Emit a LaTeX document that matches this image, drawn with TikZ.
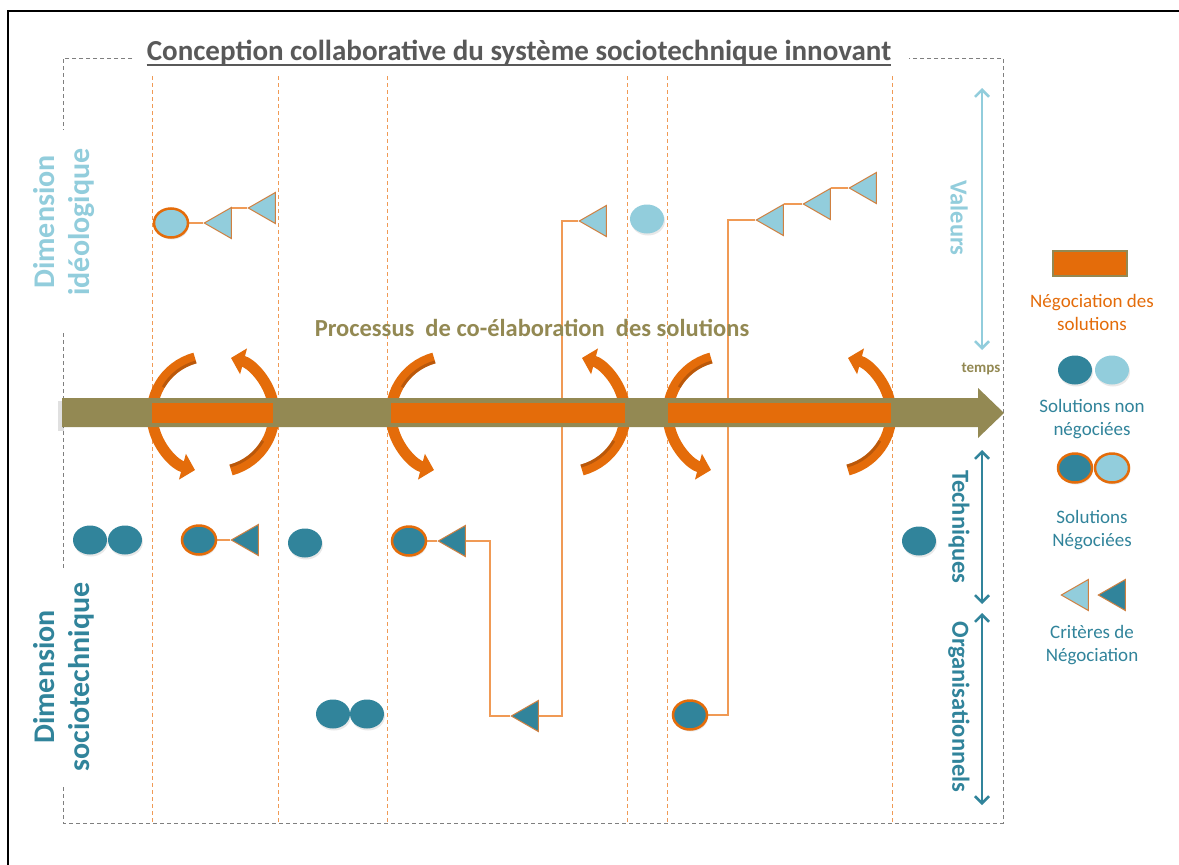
\documentclass[tikz,border=0pt]{standalone}
\usepackage{fontspec}
\setmainfont{Carlito}
\usetikzlibrary{shapes.geometric,arrows.meta,backgrounds,shadows}
\definecolor{cOrange}{HTML}{E46C0A}
\definecolor{cLOrange}{HTML}{F09A55}
\definecolor{cOlive}{HTML}{938953}
\definecolor{cLBlue}{HTML}{92CDDC}
\definecolor{cTeal}{HTML}{31849B}
\definecolor{cGray}{HTML}{7F7F7F}
\definecolor{cTitle}{HTML}{595959}
\definecolor{cTriB}{HTML}{D08040}
\definecolor{cDkOr}{HTML}{A9500A}
\begin{document}
\begin{tikzpicture}[x=1pt,y=-1pt,
 sol/.style={ellipse, inner sep=0pt, minimum width=34pt, minimum height=29pt,
   drop shadow={shadow xshift=1pt,shadow yshift=-2pt,opacity=.18}},
 dk/.style={sol, fill=cTeal},
 lt/.style={sol, fill=cLBlue},
 ng/.style={draw=cOrange, line width=2.5pt},
 tri/.style={isosceles triangle, isosceles triangle stretches, rotate=180, inner sep=0pt,
   minimum width=31pt, minimum height=27pt, draw=cTriB, line width=1pt, anchor=apex},
 ltri/.style={tri, fill=cLBlue},
 dtri/.style={tri, fill=cTeal},
 link/.style={draw=cLOrange, line width=1.3pt},
 vsep/.style={draw=cLOrange, line width=0.9pt, dash pattern=on 4pt off 3pt},
 gframe/.style={draw=cGray, line width=0.9pt, dash pattern=on 4pt off 3pt},
 cycarrow/.style={draw=cOrange, line width=11pt, -{Triangle[length=13pt,width=26pt]}},
 shade/.style={draw=cDkOr, line width=3pt, opacity=.7},
 dbl/.style={line width=2.5pt, {Straight Barb[length=7pt,width=14pt]}-{Straight Barb[length=7pt,width=14pt]}},
 lgtext/.style={align=center, font=\fontsize{19}{23}\selectfont},
 vlab/.style={rotate=-90, font=\bfseries\fontsize{24.5}{28}\selectfont},
 dimlab/.style={rotate=90, align=center, font=\bfseries\fontsize{30}{35}\selectfont}
]
\useasboundingbox (0,0) rectangle (1179,865);

% title and labels
\node[text=cTitle, inner sep=0pt, font=\bfseries\fontsize{29}{32}\selectfont] (title) at (519,53)
  {Conception collaborative du système sociotechnique innovant};
\draw[cTitle, line width=1.3pt] ([yshift=-4pt]title.base west) -- ([yshift=-4pt]title.base east);
\node[text=cOlive, font=\bfseries\fontsize{24.5}{28}\selectfont] (proc) at (532,328)
  {Processus\ \ de co-élaboration\ \ des solutions};
\node[text=cOlive, font=\bfseries\fontsize{15}{17}\selectfont] (temps) at (981,369) {temps};
\node[dimlab, text=cLBlue] (dimI) at (64,222) {Dimension\\idéologique};
\node[dimlab, text=cTeal] (dimS) at (64,677) {Dimension\\sociotechnique};
\node[vlab, text=cLBlue] (val) at (959,218) {Valeurs};
\node[vlab, text=cTeal] (tech) at (959,527) {Techniques};
\node[vlab, text=cTeal] (orga) at (959,707) {Organisationnels};

% top row (ideologique)
\node[lt, ng] (e1) at (171,223) {};
\node[ltri] (t1) at (203,223) {};
\node[ltri] (t2) at (247,208) {};
\node[ltri] (t3) at (578,221) {};
\node[lt] (e2) at (647,219) {};
\node[ltri] (t4) at (755,220) {};
\node[ltri] (t5) at (802,204) {};
\node[ltri] (t6) at (848,188) {};

% techniques row
\node[dk] (d1) at (90,540) {};
\node[dk] (d2) at (125,540) {};
\node[dk, ng] (n1) at (199,540) {};
\node[dtri] (t7) at (230,540) {};
\node[dk] (d3) at (305,543) {};
\node[dk, ng] (n2) at (409,541) {};
\node[dtri] (t8) at (437,541) {};
\node[dk] (d4) at (919,541) {};

% organisationnels row
\node[dk] (d5) at (333,714) {};
\node[dk] (d6) at (367,714) {};
\node[dtri] (t9) at (510,716) {};
\node[dk, ng] (n3) at (690,715) {};

% legend
\node[fill=cOrange, draw=cOlive, line width=2pt, minimum width=74pt, minimum height=25pt, inner sep=0pt] (lgbar) at (1090,263) {};
\node[lgtext, text=cOrange] (lgt1) at (1092,312) {Négociation des\\solutions};
\node[dk] (lgd1) at (1075,370) {};
\node[lt] (lgl1) at (1112,370) {};
\node[lgtext, text=cTeal] (lgt2) at (1092,419) {Solutions non\\négociées};
\node[dk, ng] (lgd2) at (1075,468) {};
\node[lt, ng] (lgl2) at (1112,468) {};
\node[lgtext, text=cTeal] (lgt3) at (1092,530) {Solutions\\Négociées};
\node[ltri] (lgtr1) at (1060,595) {};
\node[dtri] (lgtr2) at (1097,595) {};
\node[lgtext, text=cTeal] (lgt4) at (1092,645) {Critères de\\Négociation};

% axis arrows
\coordinate (va) at (982,88); \coordinate (vb) at (982,350);
\coordinate (ta) at (982,450); \coordinate (tb) at (982,604);
\coordinate (oa) at (982,613); \coordinate (ob) at (982,805);
\draw[dbl, cLBlue] (va) -- (vb);
\draw[dbl, cTeal] (ta) -- (tb);
\draw[dbl, cTeal] (oa) -- (ob);

\coordinate (k1) at (490,600);
\coordinate (k2) at (562,600);
\coordinate (k3) at (728,600);

\begin{scope}[on background layer]
  \fill[white] (0,0) rectangle (1179,865);
  \draw[black, line width=2.5pt] (8,870) -- (8,11) -- (1185,11);
  \foreach \x in {152,278,387,627,667,892} \draw[vsep] (\x,76) -- (\x,823);
  \draw[gframe] (132,58) -- (63,58) -- (63,130);
  \draw[gframe] (63,333) -- (63,568);
  \draw[gframe] (63,787) -- (63,823) -- (1003,823) -- (1003,58) -- (909,58);
  % connectors
  \draw[link] (e1) -- (t1.apex);
  \draw[link] (t1.west |- t2.apex) -- (t2.apex);
  \draw[link] (n1) -- (t7.apex);
  \draw[link] (n2) -- (t8.apex);
  \draw[link] (t8.west) -| (k1) |- (t9.apex);
  \draw[link] (t9.west) -| (k2) |- (t3.apex);
  \draw[link] (n3) -| (k3) |- (t4.apex);
  \draw[link] (t4.west |- t5.apex) -- (t5.apex);
  \draw[link] (t5.west |- t6.apex) -- (t6.apex);
\end{scope}

% cycle arrows
\foreach \e in {152,391,668} {
  \draw[cycarrow] (\e+43,358) arc[start angle=105, end angle=255, radius=58pt];
  \draw[shade] (\e+44,362) arc[start angle=105, end angle=150, radius=54pt];
}
\foreach \r in {274,625,891} {
  \draw[cycarrow] (\r-43,470) arc[start angle=-75, end angle=75, radius=58pt];
  \draw[shade] (\r-44,466) arc[start angle=-75, end angle=-30, radius=54pt];
}
% time bar
\fill[black, opacity=.12] (58,401) rectangle (64,431);
\fill[cOlive] (62,398) -- (978,398) -- (978,388) -- (1004,413) -- (978,438) -- (978,427) -- (62,427) -- cycle;
\fill[cOrange] (152,403) rectangle (273,423);
\fill[cOrange] (391,403) rectangle (625,423);
\fill[cOrange] (668,403) rectangle (891,423);
\end{tikzpicture}
\end{document}
